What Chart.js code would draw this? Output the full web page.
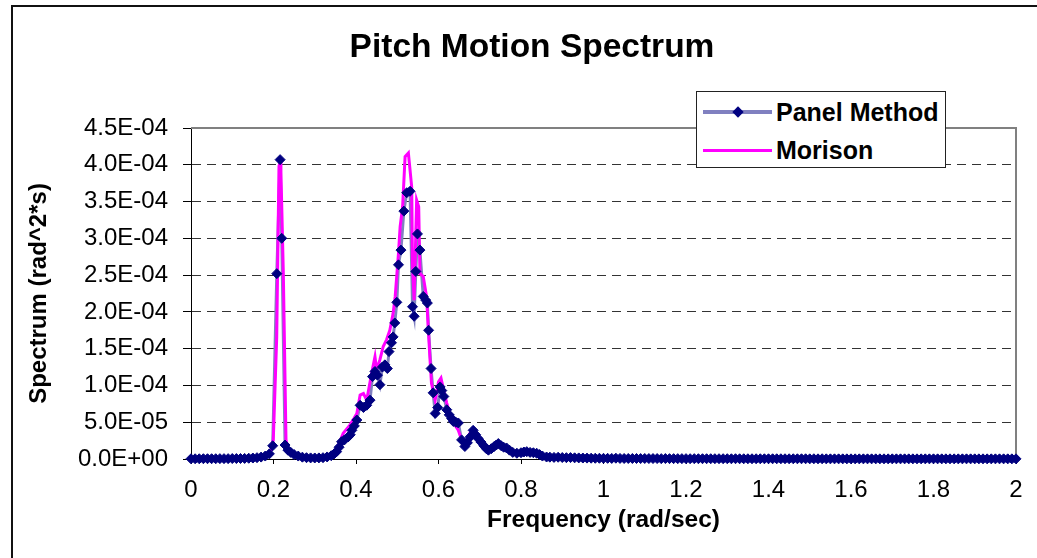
<!DOCTYPE html>
<html>
<head>
<meta charset="utf-8">
<script src="https://cdn.jsdelivr.net/npm/chart.js@4"></script>
<style>
html, body { margin: 0; padding: 0; background: #fff; overflow: hidden; }
#wrap { position: relative; width: 1037px; height: 558px; }
#frame { position: absolute; left: 11px; top: 5px; width: 1040px; height: 560px; border: 2px solid #111; box-sizing: border-box; pointer-events: none; }
#legend { position: absolute; left: 696px; top: 91px; width: 250px; height: 77px; border: 1px solid #222; background: #fff; box-sizing: border-box; font: bold 25px "Liberation Sans", Arial, sans-serif; color: #000; }
#legend .ln { position: absolute; left: 6px; width: 69px; }
#legend .dia { position: absolute; left: 37px; top: 16px; width: 8px; height: 8px; background: #000080; transform: rotate(45deg); }
#legend .txt { position: absolute; left: 79px; line-height: 28px; white-space: nowrap; }
</style>
</head>
<body>
<div id="wrap">
  <canvas id="c" width="1037" height="558"></canvas>
  <div id="legend">
    <div class="ln" style="top:18px;height:4px;background:#8080C0"></div>
    <div class="dia"></div>
    <div class="txt" style="top:6px">Panel Method</div>
    <div class="ln" style="top:57px;height:3px;background:#FF00FF"></div>
    <div class="txt" style="top:44px">Morison</div>
  </div>
  <div id="frame"></div>
</div>
<script>
// Panel Method (markers + line)
const panelFreq = [
  0, 0.01, 0.02, 0.03, 0.04, 0.05, 0.06, 0.07, 0.08, 0.09,
  0.10, 0.11, 0.12, 0.13, 0.14, 0.15, 0.16, 0.17, 0.18, 0.19,
  0.198, 0.208, 0.216, 0.220, 0.228, 0.235, 0.242, 0.250, 0.260, 0.270,
  0.28, 0.29, 0.30, 0.31, 0.32, 0.33, 0.34, 0.347, 0.353, 0.359,
  0.365, 0.372, 0.381, 0.386, 0.390, 0.396, 0.402, 0.410, 0.418, 0.426,
  0.434, 0.440, 0.446, 0.452, 0.458, 0.464, 0.470, 0.476, 0.480, 0.486,
  0.490, 0.494, 0.499, 0.503, 0.509, 0.516, 0.523, 0.531, 0.537, 0.541,
  0.545, 0.549, 0.555, 0.563, 0.569, 0.573, 0.576, 0.582, 0.587, 0.592,
  0.598, 0.604, 0.608, 0.613, 0.620, 0.626, 0.632, 0.636, 0.642, 0.648,
  0.656, 0.664, 0.670, 0.677, 0.684, 0.690, 0.696, 0.703, 0.710, 0.716,
  0.721, 0.728, 0.735, 0.740, 0.745, 0.752, 0.758, 0.765, 0.772, 0.780,
  0.790, 0.800, 0.807, 0.814, 0.822, 0.830, 0.838, 0.845, 0.852, 0.862,
  0.87, 0.88, 0.89, 0.90, 0.91, 0.92, 0.93, 0.94, 0.95, 0.96,
  0.97, 0.98, 0.99, 1.00, 1.01, 1.02, 1.03, 1.04, 1.05, 1.06,
  1.07, 1.08, 1.09, 1.10, 1.11, 1.12, 1.13, 1.14, 1.15, 1.16,
  1.17, 1.18, 1.19, 1.20, 1.21, 1.22, 1.23, 1.24, 1.25, 1.26,
  1.27, 1.28, 1.29, 1.30, 1.31, 1.32, 1.33, 1.34, 1.35, 1.36,
  1.37, 1.38, 1.39, 1.40, 1.41, 1.42, 1.43, 1.44, 1.45, 1.46,
  1.47, 1.48, 1.49, 1.50, 1.51, 1.52, 1.53, 1.54, 1.55, 1.56,
  1.57, 1.58, 1.59, 1.60, 1.61, 1.62, 1.63, 1.64, 1.65, 1.66,
  1.67, 1.68, 1.69, 1.70, 1.71, 1.72, 1.73, 1.74, 1.75, 1.76,
  1.77, 1.78, 1.79, 1.80, 1.81, 1.82, 1.83, 1.84, 1.85, 1.86,
  1.87, 1.88, 1.89, 1.90, 1.91, 1.92, 1.93, 1.94, 1.95, 1.96,
  1.97, 1.98, 1.99, 2.00
];
const panelSpec = [
  3e-7, 3e-7, 3e-7, 4e-7, 4e-7, 4e-7, 4e-7, 5e-7, 5e-7, 5e-7,
  6e-7, 6e-7, 7e-7, 8e-7, 1.0e-6, 1.3e-6, 1.8e-6, 2.6e-6, 4.0e-6, 7.0e-6,
  1.8e-5, 2.52e-4, 4.07e-4, 3.0e-4, 1.9e-5, 1.2e-5, 9e-6, 6e-6, 4e-6, 2.5e-6,
  1.8e-6, 1.5e-6, 1.4e-6, 1.5e-6, 1.8e-6, 2.8e-6, 4.5e-6, 7e-6, 1.0e-5, 1.6e-5,
  2.35e-5, 2.6e-5, 3.0e-5, 3.3e-5, 3.9e-5, 4.5e-5, 5.3e-5, 7.3e-5, 7.0e-5, 7.3e-5,
  8.0e-5, 1.12e-4, 1.19e-4, 1.14e-4, 1.01e-4, 1.25e-4, 1.28e-4, 1.23e-4, 1.46e-4, 1.58e-4,
  1.66e-4, 1.85e-4, 2.13e-4, 2.64e-4, 2.84e-4, 3.37e-4, 3.62e-4, 3.64e-4, 2.07e-4, 1.94e-4,
  2.55e-4, 3.06e-4, 2.84e-4, 2.21e-4, 2.16e-4, 2.12e-4, 1.75e-4, 1.23e-4, 9.0e-5, 6.2e-5,
  7.0e-5, 9.8e-5, 9.3e-5, 8.5e-5, 6.7e-5, 6.0e-5, 5.5e-5, 5.1e-5, 5.0e-5, 4.9e-5,
  2.6e-5, 1.7e-5, 2.2e-5, 3.0e-5, 3.9e-5, 3.3e-5, 2.8e-5, 2.3e-5, 1.8e-5, 1.4e-5,
  1.2e-5, 1.4e-5, 1.7e-5, 1.9e-5, 2.1e-5, 1.8e-5, 1.6e-5, 1.5e-5, 1.2e-5, 9e-6,
  7.8e-6, 8.5e-6, 9.5e-6, 1.0e-5, 9e-6, 8.5e-6, 7.8e-6, 6e-6, 4e-6, 2.7e-6,
  2.5e-6, 2.2e-6, 2.4e-6, 2.0e-6, 1.8e-6, 1.9e-6, 1.6e-6, 1.5e-6, 1.3e-6, 1.2e-6,
  1.1e-6, 1.0e-6, 1.0e-6, 9e-7, 9e-7, 8e-7, 1.1e-6, 8e-7, 7e-7, 7e-7,
  7e-7, 7e-7, 6e-7, 7e-7, 6e-7, 6e-7, 6e-7, 5e-7, 6e-7, 5e-7,
  5e-7, 5e-7, 5e-7, 5e-7, 4e-7, 5e-7, 4e-7, 4e-7, 4e-7, 4e-7,
  4e-7, 4e-7, 4e-7, 4e-7, 3e-7, 4e-7, 3e-7, 3e-7, 3e-7, 3e-7,
  3e-7, 3e-7, 3e-7, 3e-7, 3e-7, 3e-7, 3e-7, 3e-7, 3e-7, 3e-7,
  3e-7, 3e-7, 3e-7, 2e-7, 3e-7, 2e-7, 3e-7, 2e-7, 2e-7, 2e-7,
  2e-7, 2e-7, 2e-7, 2e-7, 2e-7, 2e-7, 2e-7, 2e-7, 2e-7, 2e-7,
  2e-7, 2e-7, 2e-7, 2e-7, 2e-7, 2e-7, 2e-7, 2e-7, 2e-7, 2e-7,
  2e-7, 2e-7, 2e-7, 2e-7, 2e-7, 2e-7, 2e-7, 2e-7, 2e-7, 2e-7,
  2e-7, 2e-7, 2e-7, 2e-7, 2e-7, 2e-7, 2e-7, 2e-7, 2e-7, 2e-7,
  2e-7, 2e-7, 2e-7, 2e-7
];

// Morison (line only)
const morisonFreq = [
  0, 0.02, 0.04, 0.06, 0.08, 0.10, 0.12, 0.14, 0.16, 0.18,
  0.192, 0.1995, 0.2078, 0.2133, 0.2158, 0.2180, 0.2238, 0.2303, 0.236, 0.245,
  0.26, 0.28, 0.30, 0.32, 0.34, 0.355, 0.369, 0.385, 0.395, 0.402,
  0.410, 0.418, 0.426, 0.438, 0.446, 0.450, 0.458, 0.466, 0.474, 0.482,
  0.490, 0.495, 0.503, 0.507, 0.513, 0.519, 0.527, 0.535, 0.537, 0.541,
  0.547, 0.552, 0.555, 0.563, 0.571, 0.579, 0.583, 0.592, 0.600, 0.606,
  0.612, 0.620, 0.632, 0.648, 0.656, 0.666, 0.676, 0.684, 0.696, 0.710,
  0.720, 0.735, 0.745, 0.765, 0.790, 0.814, 0.838, 0.860, 0.880, 0.900,
  0.92, 0.94, 0.96, 0.98, 1.00, 1.05, 1.10, 1.20, 1.30, 1.40,
  1.50, 1.60, 1.70, 1.80, 1.90, 2.00
];
const morisonSpec = [
  3e-7, 3e-7, 4e-7, 4e-7, 5e-7, 6e-7, 7e-7, 1.0e-6, 1.8e-6, 4e-6,
  8e-6, 2.6e-5, 1.66e-4, 3.98e-4, 4.03e-4, 3.9e-4, 2.53e-4, 2.6e-5, 1.2e-5, 7e-6,
  4e-6, 2e-6, 1.5e-6, 2e-6, 6e-6, 1.6e-5, 3.5e-5, 4.6e-5, 5.5e-5, 6.2e-5,
  8.7e-5, 8.9e-5, 8.0e-5, 1.17e-4, 1.39e-4, 1.21e-4, 1.35e-4, 1.53e-4, 1.62e-4, 1.75e-4,
  1.98e-4, 2.21e-4, 2.80e-4, 3.16e-4, 3.43e-4, 4.11e-4, 4.16e-4, 3.70e-4, 2.62e-4, 2.16e-4,
  3.52e-4, 3.43e-4, 2.52e-4, 2.48e-4, 2.21e-4, 1.39e-4, 1.03e-4, 8.0e-5, 1.05e-4, 1.10e-4,
  9.5e-5, 7.6e-5, 5.3e-5, 3.9e-5, 2.6e-5, 2.4e-5, 3.5e-5, 3.8e-5, 2.9e-5, 1.8e-5,
  1.3e-5, 1.7e-5, 2.0e-5, 1.5e-5, 8e-6, 1.0e-5, 8e-6, 3e-6, 2.2e-6, 2.0e-6,
  1.9e-6, 1.5e-6, 1.2e-6, 1.0e-6, 9e-7, 7e-7, 6e-7, 5e-7, 4e-7, 4e-7,
  3e-7, 3e-7, 3e-7, 2e-7, 2e-7, 2e-7
];

const FONT = '"Liberation Sans", Arial, sans-serif';
Chart.defaults.font.family = FONT;
Chart.defaults.color = '#000';

function sci(v) {
  if (Math.abs(v) < 1e-12) return '0.0E+00';
  const parts = v.toExponential(1).split('e');
  const n = parseInt(parts[1], 10);
  return parts[0] + 'E' + (n < 0 ? '-' : '+') + String(Math.abs(n)).padStart(2, '0');
}

const panelPts = panelFreq.map((f, i) => ({x: f, y: panelSpec[i]}));
const morisonPts = morisonFreq.map((f, i) => ({x: f, y: morisonSpec[i]}));

// gray border on top and right of plot area (Excel style)
const plotFrame = {
  id: 'plotFrame',
  afterLayout(chart) {
    // title is centred on the whole chart frame, which runs past the window edge
    if (chart.titleBlock) chart.titleBlock.left += 26;
  },
  beforeDatasetsDraw(chart) {
    const {ctx, chartArea: a} = chart;
    ctx.save();
    ctx.strokeStyle = '#808080';
    ctx.lineWidth = 2;
    ctx.beginPath();
    ctx.moveTo(a.left, a.top);
    ctx.lineTo(a.right, a.top);
    ctx.lineTo(a.right, a.bottom);
    ctx.stroke();
    ctx.restore();
  }
};

new Chart(document.getElementById('c'), {
  type: 'line',
  data: {
    datasets: [
      {label: 'Panel Method', data: panelPts, showLine: false, pointStyle: 'rectRot',
       pointRadius: 5, pointBackgroundColor: '#000080', pointBorderColor: '#000080',
       pointBorderWidth: 1, clip: false},
      {label: 'Morison', data: morisonPts, borderColor: '#FF00FF', borderWidth: 3,
       pointRadius: 0, clip: false},
      {label: 'Panel Method line', data: panelPts, borderColor: '#8080C0', borderWidth: 3,
       pointRadius: 0, clip: false}
    ]
  },
  options: {
    responsive: false,
    animation: false,
    devicePixelRatio: 1,
    layout: {padding: {left: 22, right: 21, top: 0, bottom: 9}},
    plugins: {
      legend: {display: false},
      tooltip: {enabled: false},
      title: {
        display: true,
        text: 'Pitch Motion Spectrum',
        color: '#000',
        font: {size: 33.5, weight: 'bold'},
        padding: {top: 28, bottom: 59.8}
      }
    },
    scales: {
      x: {
        type: 'linear',
        min: 0, max: 2,
        ticks: {stepSize: 0.2, font: {size: 24}, color: '#000', padding: 12, maxRotation: 0, autoSkip: false,
                callback: v => String(Number(v.toFixed(1)))},
        grid: {drawOnChartArea: false, tickLength: 5, tickColor: '#000', tickWidth: 1},
        border: {color: '#000', width: 1},
        title: {display: true, text: 'Frequency (rad/sec)', color: '#000',
                font: {size: 24.5, weight: 'bold'}, padding: {top: 0, bottom: 14}},
        afterFit: s => { s.height = 90; }
      },
      y: {
        min: 0, max: 4.5e-4,
        ticks: {stepSize: 5e-5, font: {size: 24}, color: '#000', padding: 15, callback: v => sci(v)},
        grid: {
          color: c => (c.tick && (c.tick.value > 4.4e-4 || c.tick.value < 1e-9)) ? 'rgba(0,0,0,0)' : '#333',
          lineWidth: 1, tickLength: 8, tickColor: '#000', tickWidth: 1
        },
        border: {color: '#000', width: 1, dash: [9, 6]},
        title: {display: true, text: 'Spectrum (rad^2*s)', color: '#000',
                font: {size: 24, weight: 'bold'}, padding: {top: 3, bottom: 0}},
        afterFit: s => { s.width = 169; }
      }
    }
  },
  plugins: [plotFrame]
});
</script>
</body>
</html>
